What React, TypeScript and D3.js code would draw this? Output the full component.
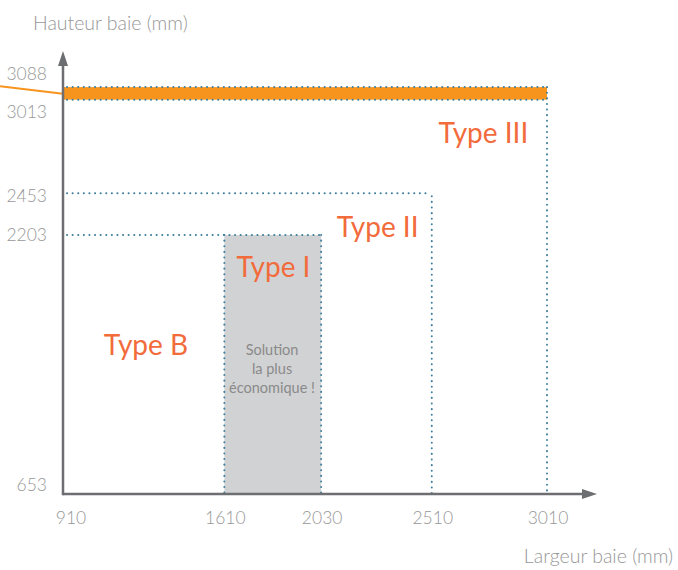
import React from "react";
import * as d3 from "d3";

const xTicks = [910, 1610, 2030, 2510, 3010];
const yTicks = [653, 2203, 2453, 3013, 3088];
const yLabelShift = [-9, 0, 3, 12, -13];

const typeIWidths = [1610, 2030];
const typeIHeight = 2203;
const typeIIWidth = 2510;
const typeIIHeight = 2453;
const typeIIIWidth = 3010;
const typeIIIHeights = [3013, 3088];

const typeLabels = [
  { name: "Type III", w: 2734, h: 2753 },
  { name: "Type II", w: 2275, h: 2191 },
  { name: "Type I", w: 1823, h: 1952 },
  { name: "Type B", w: 1270, h: 1482 },
];
const noteLines = ["Solution", "la plus", "économique !"];
const noteAt = { w: 1817, h: 1485 };

const W = 678;
const H = 570;
const x = d3.scaleLinear().domain([910, 3010]).range([63, 547]);
const y = d3.scaleLinear().domain([653, 2203]).range([494, 235]);

const ORANGE = "#f26b3b";
const DOT = "#3f7f9d";
const AXIS = "#6d6e71";
const LABEL = "#979797";
const FONT = "Lato, 'Open Sans', sans-serif";

export default function App() {
  const x0 = x(910);
  const y0 = y(653);
  const dotStart = x0 + 4;
  const dotted = { stroke: DOT, strokeWidth: 2, strokeDasharray: "0.1 5.5", strokeLinecap: "round" as const, fill: "none" };
  return (
    <svg width={W} height={H} style={{ position: "absolute", left: 0, top: 0, background: "#fff" }}>
      {/* Type I grey zone */}
      <rect
        x={x(typeIWidths[0])}
        y={y(typeIHeight)}
        width={x(typeIWidths[1]) - x(typeIWidths[0])}
        height={y0 - y(typeIHeight)}
        fill="#d1d2d4"
      />
      {/* Type III orange band */}
      <rect
        x={x0}
        y={y(typeIIIHeights[1])}
        width={x(typeIIIWidth) - x0}
        height={y(typeIIIHeights[0]) - y(typeIIIHeights[1])}
        fill="#f7941d"
      />
      {/* leader line */}
      <line x1={0} y1={y(3093)} x2={x0} y2={y(3048)} stroke="#f7941d" strokeWidth={2} />

      {/* dotted outlines */}
      <path {...dotted} d={`M${dotStart},${y(typeIHeight)}H${x(typeIWidths[1])}`} />
      {typeIWidths.map((w) => (
        <path key={w} {...dotted} d={`M${x(w)},${y(typeIHeight)}V${y0}`} />
      ))}
      <path {...dotted} d={`M${dotStart},${y(typeIIHeight)}H${x(typeIIWidth) - 3}`} />
      <path {...dotted} d={`M${x(typeIIWidth)},${y(typeIIHeight) + 3}V${y0}`} />
      {typeIIIHeights.map((h) => (
        <path key={h} {...dotted} d={`M${dotStart},${y(h)}H${x(typeIIIWidth)}`} />
      ))}
      <path {...dotted} d={`M${x(typeIIIWidth)},${y(typeIIIHeights[1])}V${y0}`} />

      {/* axes */}
      <line x1={x0} y1={y0} x2={585} y2={y0} stroke={AXIS} strokeWidth={2.5} />
      <path d={`M597,${y0}L582,${y0 - 5}L582,${y0 + 5}Z`} fill={AXIS} />
      <line x1={x0} y1={y0 + 1.2} x2={x0} y2={62} stroke={AXIS} strokeWidth={2.5} />
      <path d={`M${x0},51L${x0 - 5},66L${x0 + 5},66Z`} fill={AXIS} />

      {/* tick labels */}
      {xTicks.map((t, i) => (
        <text
          key={t}
          x={i === 0 ? x(t) + 8 : x(t) + 1}
          y={524}
          textAnchor="middle"
          fontFamily={FONT}
          fontWeight={300}
          fontSize={17.5}
          fill={LABEL}
        >
          {t}
        </text>
      ))}
      {yTicks.map((t, i) => (
        <text
          key={t}
          x={47}
          y={y(t) + yLabelShift[i]}
          dy="0.35em"
          textAnchor="end"
          fontFamily={FONT}
          fontWeight={300}
          fontSize={17.5}
          fill={LABEL}
        >
          {t}
        </text>
      ))}
      <text x={33} y={30} fontFamily={FONT} fontWeight={300} fontSize={19.5} fill={LABEL}>
        Hauteur baie (mm)
      </text>
      <text x={673} y={563} textAnchor="end" fontFamily={FONT} fontWeight={300} fontSize={19.5} fill={LABEL}>
        Largeur baie (mm)
      </text>

      {/* type labels */}
      {typeLabels.map((t) => (
        <text
          key={t.name}
          x={x(t.w)}
          y={y(t.h)}
          textAnchor="middle"
          fontFamily={FONT}
          fontSize={28}
          fill={ORANGE}
        >
          {t.name}
        </text>
      ))}
      {noteLines.map((l, i) => (
        <text
          key={l}
          x={x(noteAt.w)}
          y={y(noteAt.h) + i * 19}
          textAnchor="middle"
          fontFamily={FONT}
          fontSize={14.5}
          fill="#8a8a8a"
        >
          {l}
        </text>
      ))}
    </svg>
  );
}
